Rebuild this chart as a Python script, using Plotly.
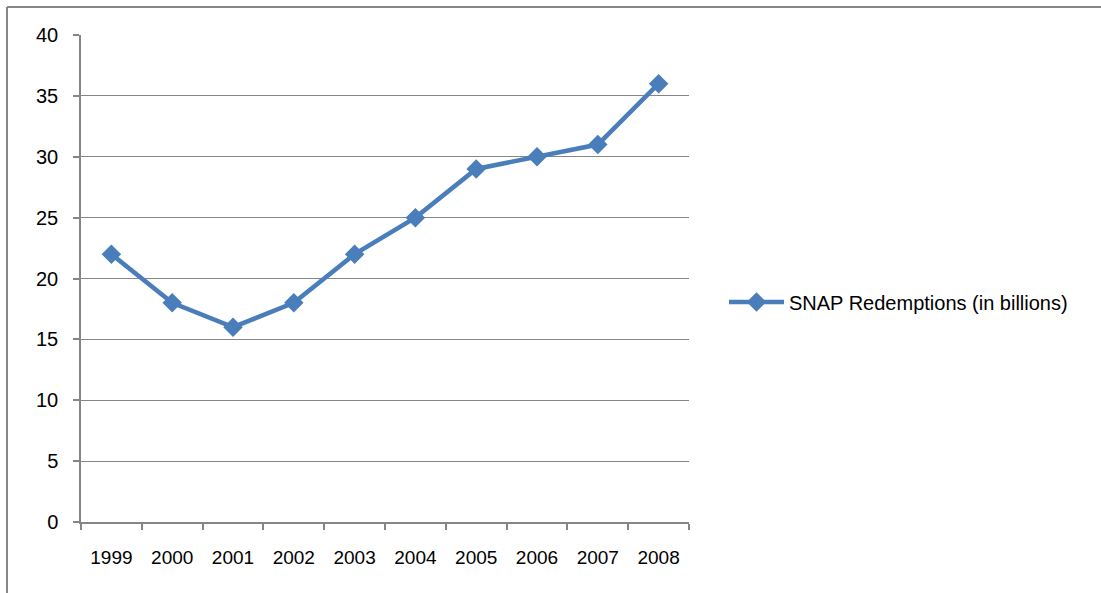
import plotly.graph_objects as go

# SNAP redemptions by fiscal year, in billions of dollars
years = ["1999", "2000", "2001", "2002", "2003", "2004", "2005", "2006", "2007", "2008"]
redemptions = [22, 18, 16, 18, 22, 25, 29, 30, 31, 36]
series_name = "SNAP Redemptions (in billions)"

y_ticks = [0, 5, 10, 15, 20, 25, 30, 35, 40]

W, H = 1101, 593
L, R, T, B = 81, 412, 35, 71
plot_w = W - L - R
plot_h = H - T - B

GRAY = "#868686"
BLUE = "#4A7EBB"
FONT = "Liberation Sans, Arial, sans-serif"


def px_x(px):
    return (px - L) / plot_w


def px_y(py):
    return (H - B - py) / plot_h


fig = go.Figure()
fig.add_trace(go.Scatter(
    x=years,
    y=redemptions,
    mode="lines+markers",
    name=series_name,
    line=dict(color=BLUE, width=4.5),
    marker=dict(symbol="diamond", size=15, color=BLUE),
    showlegend=True,
))

# outer chart frame (left and top edges)
fig.add_shape(type="line", xref="paper", yref="paper",
              x0=px_x(7), x1=px_x(7), y0=px_y(7), y1=px_y(H + 5),
              line=dict(color="#878787", width=2))
fig.add_shape(type="line", xref="paper", yref="paper",
              x0=px_x(7), x1=px_x(W + 5), y0=px_y(7), y1=px_y(7),
              line=dict(color="#878787", width=2))

fig.update_layout(
    width=W,
    height=H,
    margin=dict(l=L, r=R, t=T, b=B, autoexpand=False),
    paper_bgcolor="white",
    plot_bgcolor="white",
    font=dict(family=FONT, size=19, color="black"),
    xaxis=dict(
        type="category",
        range=[-0.5, len(years) - 0.5],
        tickson="boundaries",
        ticks="outside",
        ticklen=6,
        tickwidth=1.5,
        tickcolor=GRAY,
        showline=True,
        linecolor=GRAY,
        linewidth=1.5,
        showgrid=False,
        zeroline=False,
        ticklabelstandoff=17,
        tickfont=dict(family=FONT, size=19, color="black"),
    ),
    yaxis=dict(
        range=[0, 40],
        tickvals=y_ticks,
        ticks="outside",
        ticklen=6,
        tickwidth=1.5,
        tickcolor=GRAY,
        showline=True,
        linecolor=GRAY,
        linewidth=1.5,
        showgrid=True,
        gridcolor=GRAY,
        gridwidth=1.2,
        zeroline=False,
        ticklabelstandoff=11,
        tickfont=dict(family=FONT, size=20, color="black"),
    ),
    legend=dict(
        x=px_x(724),
        xanchor="left",
        y=px_y(302),
        yanchor="middle",
        itemwidth=55,
        bgcolor="rgba(0,0,0,0)",
        font=dict(family=FONT, size=20, color="black"),
    ),
)

fig.write_html("out.html")
